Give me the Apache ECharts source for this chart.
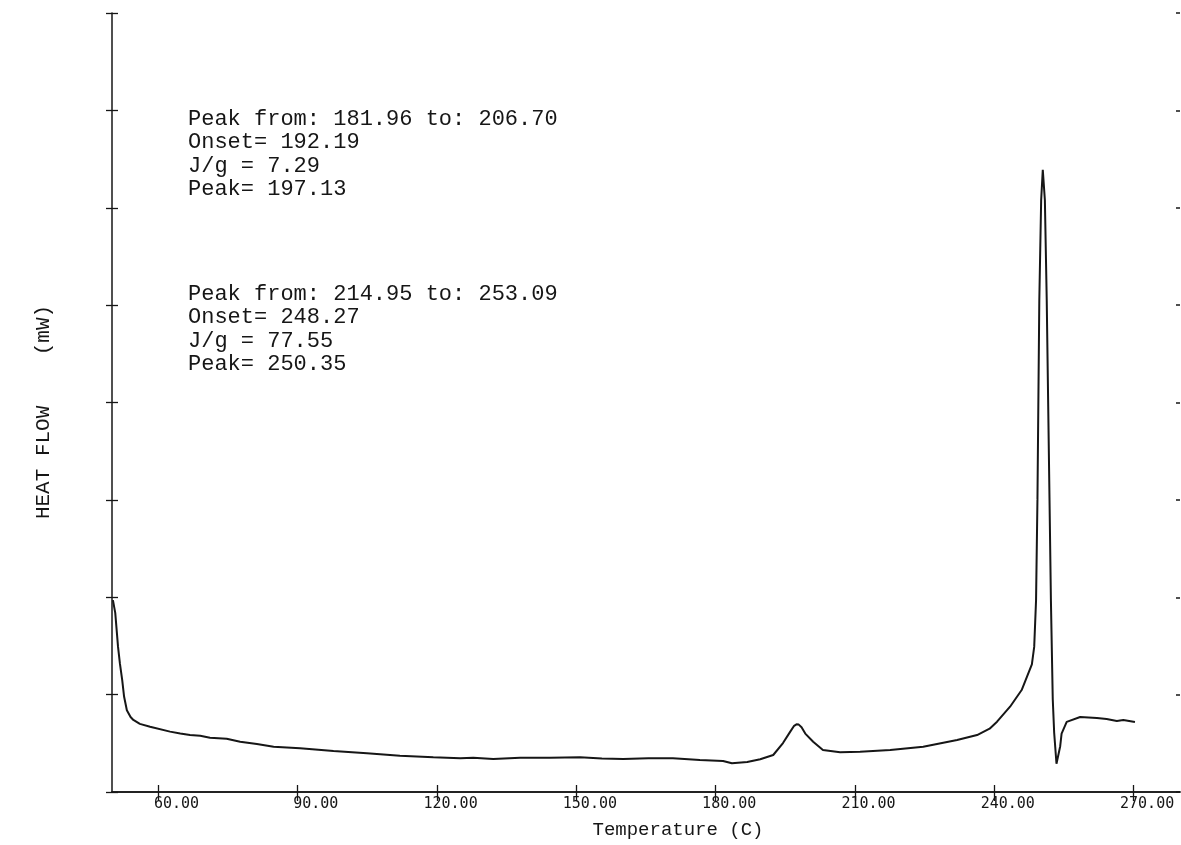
<!DOCTYPE html>
<html>
<head>
<meta charset="utf-8">
<title>DSC Heat Flow</title>
<script src="https://cdn.jsdelivr.net/npm/echarts@6/dist/echarts.min.js"></script>
<style>
  html, body { margin: 0; padding: 0; background: #ffffff; }
  #chart { width: 1181px; height: 845px; }
</style>
</head>
<body>
<div id="chart"></div>
<script>
// ---- data ----
const temperature = [
  50.2, 50.7, 51.3, 51.7, 52.2, 52.6, 53.2, 54.0, 54.6, 56.0,
  58.2, 62.5, 64.7, 66.8, 69.0, 71.1, 74.7, 77.6, 81.2, 84.8,
  90.5, 97.7, 104.9, 112.0, 119.2, 125.0, 127.8, 132.1, 137.9, 144.3,
  150.8, 155.5, 160.1, 165.5, 170.8, 176.6, 181.6, 183.5, 186.8, 189.6,
  192.4, 194.5, 196.0, 196.9, 197.4, 197.9, 198.5, 199.3, 201.0, 203.1, 206.8, 211.1, 217.6,
  224.7, 232.0, 236.3, 239.0, 240.6, 243.4, 245.9, 248.1, 248.6, 249.0,
  249.3, 249.7, 250.1, 250.45, 250.9, 251.3, 251.9, 252.2, 252.6, 252.9,
  253.4, 254.2, 254.5, 255.6, 258.5, 262.1, 264.2, 266.4, 267.8, 270.3
];
const heatFlow = [
  1.97, 1.84, 1.49, 1.32, 1.15, 0.98, 0.84, 0.77, 0.74, 0.70,
  0.67, 0.62, 0.60, 0.585, 0.578, 0.557, 0.547, 0.516, 0.493, 0.465,
  0.449, 0.421, 0.397, 0.373, 0.357, 0.346, 0.352, 0.339, 0.352, 0.352,
  0.356, 0.345, 0.339, 0.347, 0.346, 0.329, 0.318, 0.295, 0.308, 0.336,
  0.380, 0.503, 0.615, 0.680, 0.695, 0.692, 0.665, 0.600, 0.516, 0.431, 0.408, 0.414, 0.431,
  0.465, 0.534, 0.585, 0.65, 0.722, 0.876, 1.047, 1.31, 1.49, 1.97,
  3.00, 5.05, 6.08, 6.39, 6.08, 5.05, 3.00, 1.97, 0.95, 0.61,
  0.29, 0.47, 0.60, 0.72, 0.77, 0.76, 0.75, 0.73, 0.74, 0.72
];
const xTickValues = [60, 90, 120, 150, 180, 210, 240, 270];
const xRange = [50, 280];
const yRange = [0, 8];
const yTickStep = 1;
const peak1Lines = ['Peak from: 181.96 to: 206.70', 'Onset= 192.19', 'J/g = 7.29', 'Peak= 197.13'];
const peak2Lines = ['Peak from: 214.95 to: 253.09', 'Onset= 248.27', 'J/g = 77.55', 'Peak= 250.35'];
const xAxisTitle = 'Temperature (C)';
const yAxisTitle = 'HEAT FLOW    (mW)';

// ---- chart ----
const ink = '#161616';
const chart = echarts.init(document.getElementById('chart'), null, { renderer: 'canvas' });
const seriesData = temperature.map((t, i) => [t, heatFlow[i]]);

function tickLabel(v) {
  const s = Number(v).toFixed(2);
  return '   ' + s.padStart(6, ' ');
}

const baseX = { type: 'value', min: xRange[0], max: xRange[1], splitLine: { show: false } };
const baseY = { type: 'value', min: yRange[0], max: yRange[1], interval: yTickStep, splitLine: { show: false }, axisLabel: { show: false } };

const option = {
  animation: false,
  backgroundColor: '#ffffff',
  grid: { left: 112, right: 1, top: 13, bottom: 53, containLabel: false },
  xAxis: [
    Object.assign({}, baseX, {
      position: 'bottom',
      axisLine: { show: true, lineStyle: { color: ink, width: 1.5 } },
      axisTick: { show: true, inside: false, length: 9, customValues: xTickValues, lineStyle: { color: ink, width: 1.3 } },
      axisLabel: {
        show: true, customValues: xTickValues, formatter: tickLabel, margin: 5,
        fontFamily: 'DejaVu Sans Mono', fontSize: 15, color: ink, align: 'center'
      }
    }),
    Object.assign({}, baseX, {
      position: 'bottom',
      axisLine: { show: false },
      axisTick: { show: true, inside: true, length: 7, customValues: xTickValues, lineStyle: { color: ink, width: 1.3 } },
      axisLabel: { show: false }
    }),
    Object.assign({}, baseX, {
      position: 'top',
      axisLine: { show: true, lineStyle: { color: ink, width: 1.5 } },
      axisTick: { show: false },
      axisLabel: { show: false }
    })
  ],
  yAxis: [
    Object.assign({}, baseY, {
      position: 'left',
      axisLine: { show: true, lineStyle: { color: ink, width: 1.5 } },
      axisTick: { show: true, inside: false, length: 6, lineStyle: { color: ink, width: 1.3 } }
    }),
    Object.assign({}, baseY, {
      position: 'left',
      axisLine: { show: false },
      axisTick: { show: true, inside: true, length: 6, lineStyle: { color: ink, width: 1.3 } }
    }),
    Object.assign({}, baseY, {
      position: 'right',
      axisLine: { show: false },
      axisTick: { show: true, inside: true, length: 4, lineStyle: { color: ink, width: 1.5 } }
    })
  ],
  series: [{
    type: 'line',
    name: 'Heat flow',
    xAxisIndex: 0,
    yAxisIndex: 0,
    data: seriesData,
    showSymbol: false,
    smooth: false,
    lineStyle: { color: ink, width: 2 },
    itemStyle: { color: ink }
  }],
  graphic: [
    {
      type: 'text', x: 188, y: 107.5,
      style: { text: peak1Lines.join('\n'), fontFamily: 'Liberation Mono', fontSize: 22, lineHeight: 23.3, fill: ink }
    },
    {
      type: 'text', x: 188, y: 282.5,
      style: { text: peak2Lines.join('\n'), fontFamily: 'Liberation Mono', fontSize: 22, lineHeight: 23.3, fill: ink }
    },
    {
      type: 'text', x: 678, y: 830,
      style: { text: xAxisTitle, fontFamily: 'Liberation Mono', fontSize: 19, fill: ink,
               align: 'center', verticalAlign: 'middle', textAlign: 'center', textVerticalAlign: 'middle' }
    },
    {
      type: 'text', x: 43, y: 412, rotation: Math.PI / 2,
      style: { text: yAxisTitle, fontFamily: 'Liberation Mono', fontSize: 21, fill: ink,
               align: 'center', verticalAlign: 'middle', textAlign: 'center', textVerticalAlign: 'middle' }
    }
  ]
};
chart.setOption(option);
</script>
</body>
</html>
